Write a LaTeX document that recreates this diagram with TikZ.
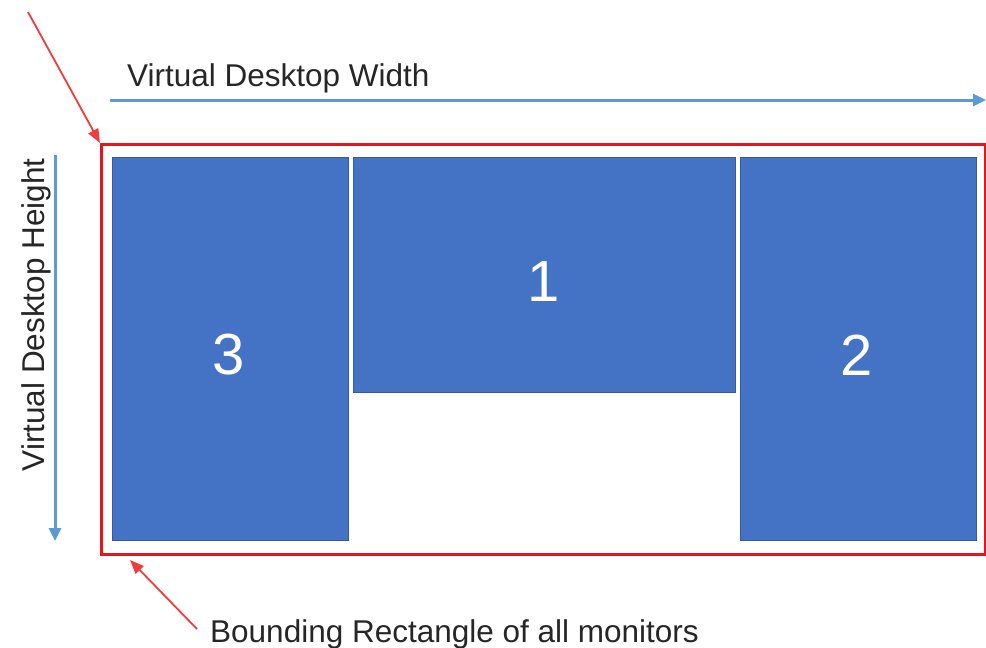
\documentclass[tikz,border=0pt]{standalone}
\usepackage{fontspec}
\setmainfont{Liberation Sans}
\usetikzlibrary{arrows.meta}
\definecolor{monblue}{HTML}{4472C4}
\definecolor{arrblue}{HTML}{5B9BD5}
\definecolor{bndred}{HTML}{E8141B}
\definecolor{ptrred}{HTML}{F03C3C}
\tikzset{
  monitor/.style={fill=monblue, draw=monblue!80!black, line width=0.6pt, inner sep=0pt},
  monlabel/.style={text=white, font=\fontsize{58}{60}\selectfont},
  dimarrow/.style={draw=arrblue, line width=3pt, -{Triangle[length=13pt,width=12pt]}},
  ptrarrow/.style={draw=ptrred, line width=1.8pt, -{Triangle[length=14pt,width=11pt]}},
  caption/.style={font=\fontsize{31.5}{33}\selectfont, text=black!85, inner sep=0pt}
}
\begin{document}
\begin{tikzpicture}[x=1pt,y=-1pt]
\useasboundingbox (0,0) rectangle (986,648);
% bounding rectangle
\node[draw=bndred, line width=3pt, minimum width=884pt, minimum height=410pt, inner sep=0pt, anchor=north west] (bound) at (100,143) {};
% monitors
\node[monitor, minimum width=236pt, minimum height=383pt, anchor=north west] (m3) at (112,157) {};
\node[monitor, minimum width=382pt, minimum height=235pt, anchor=north west] (m1) at (353,157) {};
\node[monitor, minimum width=236pt, minimum height=383pt, anchor=north west] (m2) at (740,157) {};
\node[monlabel] (l3) at (229,355) {3};
\node[monlabel] (l1) at (544,282) {1};
\node[monlabel] (l2) at (857,355) {2};
% dimension arrows
\coordinate (wS) at (110,100);
\coordinate (wE) at (986,100);
\draw[dimarrow] (wS) -- (wE);
\node[caption, anchor=base west] (wlab) at (127,86) {Virtual Desktop Width};
\coordinate (hS) at (55,155);
\coordinate (hE) at (55,541);
\draw[dimarrow] (hS) -- (hE);
\node[caption, rotate=90, anchor=base] (hlab) at (44,315) {Virtual Desktop Height};
% pointer arrows
\coordinate (p1) at (28,12);
\draw[ptrarrow] (p1) -- (bound.north west);
\node[caption, anchor=base west] (blab) at (210,642) {Bounding Rectangle of all monitors};
\coordinate (p2) at (197,629);
\draw[ptrarrow] (p2) -- ([shift={(30pt,-4pt)}]bound.south west);
\end{tikzpicture}
\end{document}
